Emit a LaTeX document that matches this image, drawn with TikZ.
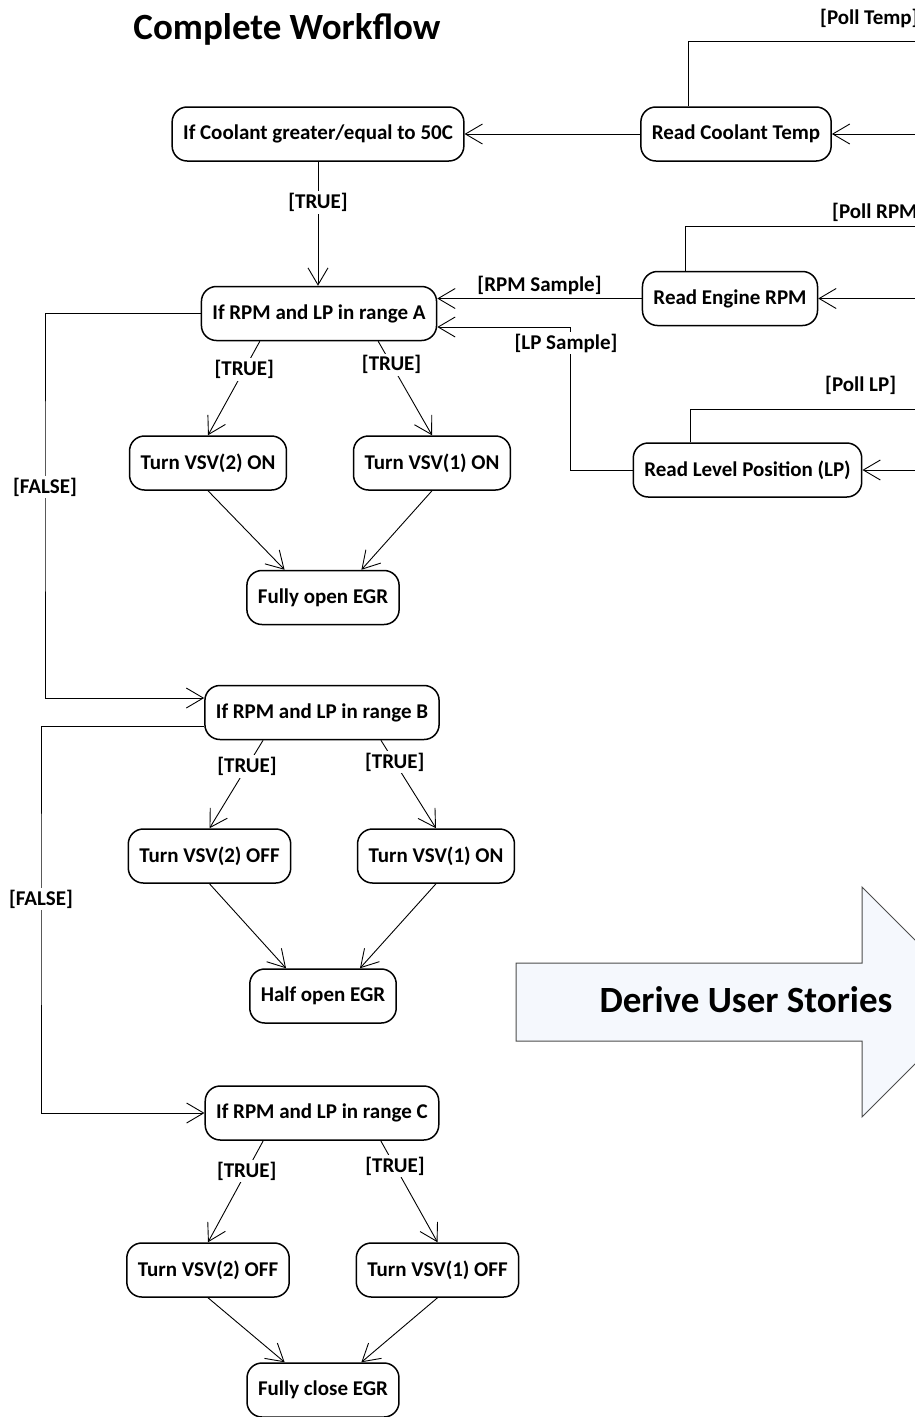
\documentclass[tikz,border=0pt]{standalone}
\usepackage{fontspec}
\setmainfont{Carlito}
\usetikzlibrary{arrows.meta, calc}
\definecolor{arrowfill}{HTML}{F5F8FD}

\begin{document}
\begin{tikzpicture}[
	x=1pt, y=-1pt,
	font=\bfseries,
	% Define styles
	state/.style={rectangle, draw=black, line width=1.5pt, rounded corners=15pt, fill=white, minimum height=54pt, inner xsep=11pt, font=\fontsize{21}{25}\selectfont\bfseries},
	guard/.style={fill=white, inner sep=2pt, font=\fontsize{21}{25}\selectfont\bfseries},
	arrow/.style={-{Straight Barb[length=17pt, width=20pt]}, line width=0.9pt},
	bigarrow/.style={draw=black!70, line width=1pt, fill=arrowfill},
	headline/.style={font=\fontsize{37}{42}\selectfont\bfseries}
	]
	\useasboundingbox (0,0) rectangle (915,1417);
	\clip (0,0) rectangle (915,1417);
	
	% 1. Title
	\node[headline] (title) at (287,29) {Complete Workflow};
	
	% 2. Sensor reads, polled from the right
	\node[state] (readTemp) at (736,134) {Read Coolant Temp};
	\node[state] (readRPM) at (730,298.5) {Read Engine RPM};
	\node[state] (readLP) at (747.5,470) {Read Level Position (LP)};
	
	\coordinate (pollTemp) at (960,41);
	\coordinate (pollRPM) at (960,226);
	\coordinate (pollLP) at (960,409);
	\draw[arrow] ($(readTemp.north west)!.25!(readTemp.north east)$) |- (pollTemp) |- (readTemp.east);
	\draw[arrow] ($(readRPM.north west)!.25!(readRPM.north east)$) |- (pollRPM) |- (readRPM.east);
	\draw[arrow] ($(readLP.north west)!.25!(readLP.north east)$) |- (pollLP) |- (readLP.east);
	\node[guard, anchor=west] (pollTempLabel) at (818,18) {[Poll Temp]};
	\node[guard, anchor=west] (pollRPMLabel) at (830,212) {[Poll RPM]};
	\node[guard, anchor=west] (pollLPLabel) at (823,385) {[Poll LP]};
	
	% 3. Coolant check
	\node[state] (coolIf) at (318,134) {If Coolant greater/equal to 50C};
	\draw[arrow] (readTemp.west) -- (coolIf.east);
	
	% 4. Range A
	\node[state] (rangeA) at (319,313.5) {If RPM and LP in range A};
	\draw[arrow] (coolIf.south) -- node[guard, pos=.33] (trueCool) {[TRUE]} (coolIf.south |- rangeA.north);
	\draw[arrow] (readRPM.west) -- node[midway, above, font=\fontsize{21}{25}\selectfont\bfseries] (rpmSample) {[RPM Sample]} (readRPM.west -| rangeA.east);
	\coordinate (lpBend) at (570,327);
	\draw[arrow] (readLP.west) -| (lpBend) -- (lpBend -| rangeA.east);
	\node[guard] (lpSample) at (566,343) {[LP Sample]};
	
	\node[state] (vsvTwoOnA) at (208,463) {Turn VSV(2) ON};
	\node[state] (vsvOneOnA) at (432,463) {Turn VSV(1) ON};
	\node[state] (openFull) at (323,597.5) {Fully open EGR};
	\draw[arrow] ($(rangeA.south west)!.25!(rangeA.south east)$) -- node[guard, pos=.3] (trueA2) {[TRUE]} (vsvTwoOnA.north);
	\draw[arrow] ($(rangeA.south west)!.75!(rangeA.south east)$) -- node[guard, pos=.25] (trueA1) {[TRUE]} (vsvOneOnA.north);
	\draw[arrow] (vsvTwoOnA.south) -- ($(openFull.north west)!.25!(openFull.north east)$);
	\draw[arrow] (vsvOneOnA.south) -- ($(openFull.north west)!.75!(openFull.north east)$);
	
	% 5. Range B
	\node[state] (rangeB) at (322,712.5) {If RPM and LP in range B};
	\coordinate (falseA) at (45,487);
	\draw[arrow] (rangeA.west) -| (falseA) |- ([yshift=14.5pt]rangeB.west);
	\node[guard] (falseALabel) at (falseA) {[FALSE]};
	
	\node[state] (vsvTwoOffB) at (209.5,856) {Turn VSV(2) OFF};
	\node[state] (vsvOneOnB) at (436,856) {Turn VSV(1) ON};
	\node[state] (openHalf) at (323,996) {Half open EGR};
	\draw[arrow] ($(rangeB.south west)!.25!(rangeB.south east)$) -- node[guard, pos=.3] (trueB2) {[TRUE]} (vsvTwoOffB.north);
	\draw[arrow] ($(rangeB.south west)!.75!(rangeB.south east)$) -- node[guard, pos=.25] (trueB1) {[TRUE]} (vsvOneOnB.north);
	\draw[arrow] (vsvTwoOffB.south) -- ($(openHalf.north west)!.25!(openHalf.north east)$);
	\draw[arrow] (vsvOneOnB.south) -- ($(openHalf.north west)!.75!(openHalf.north east)$);
	
	% 6. Range C
	\node[state] (rangeC) at (322,1113) {If RPM and LP in range C};
	\coordinate (falseB) at (41,899);
	\draw[arrow] ([yshift=-13.5pt]rangeB.west) -| (falseB) |- (rangeC.west);
	\node[guard] (falseBLabel) at (falseB) {[FALSE]};
	
	\node[state] (vsvTwoOffC) at (208,1270) {Turn VSV(2) OFF};
	\node[state] (vsvOneOffC) at (437.5,1270) {Turn VSV(1) OFF};
	\node[state] (closeFull) at (323,1390) {Fully close EGR};
	\draw[arrow] ($(rangeC.south west)!.25!(rangeC.south east)$) -- node[guard, pos=.3] (trueC2) {[TRUE]} (vsvTwoOffC.north);
	\draw[arrow] ($(rangeC.south west)!.75!(rangeC.south east)$) -- node[guard, pos=.25] (trueC1) {[TRUE]} (vsvOneOffC.north);
	\draw[arrow] (vsvTwoOffC.south) -- ($(closeFull.north west)!.25!(closeFull.north east)$);
	\draw[arrow] (vsvOneOffC.south) -- ($(closeFull.north west)!.75!(closeFull.north east)$);
	
	% 7. Big arrow
	\draw[bigarrow] (516,963) -- (862,963) -- (862,887) -- (977,1002) -- (862,1117) -- (862,1041) -- (516,1041) -- cycle;
	\node[headline] (derive) at (746,1000) {Derive User Stories};
\end{tikzpicture}
\end{document}
